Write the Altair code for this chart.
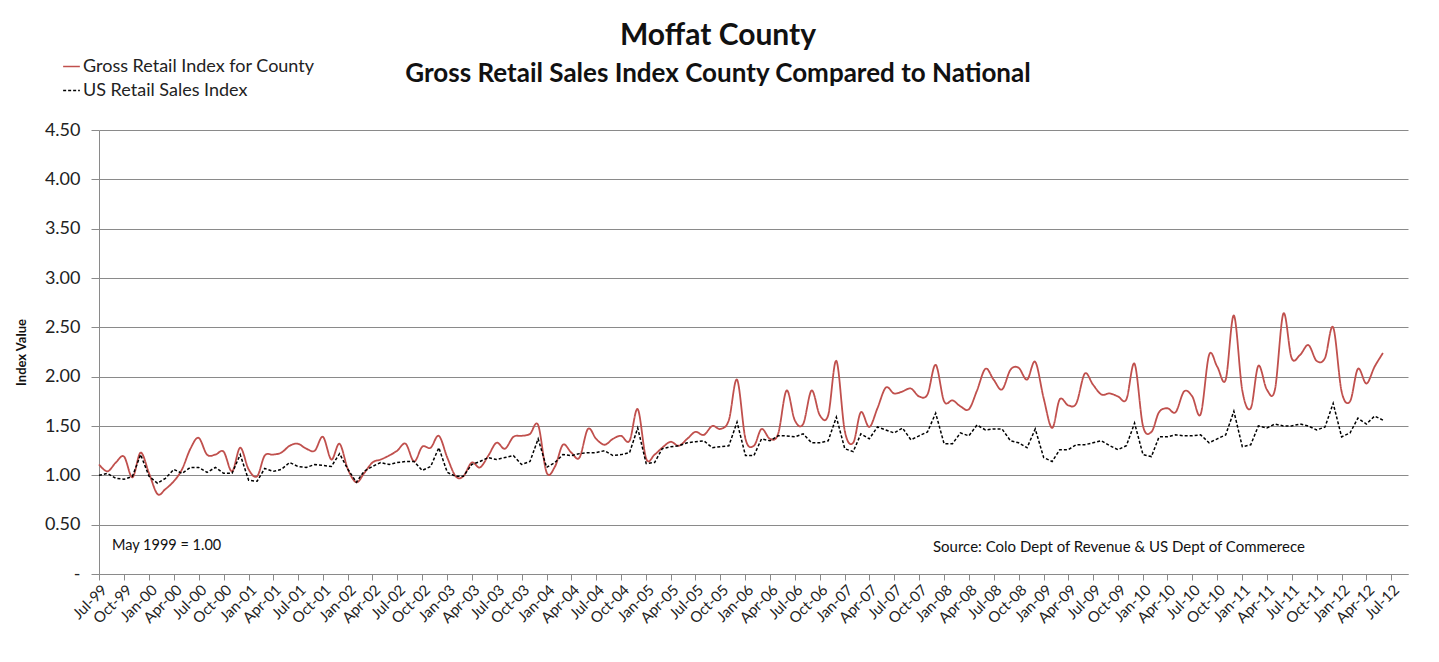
import altair as alt
import pandas as pd

# ---- data (monthly, first month Jul-1999) ----
start_month = "1999-07-01"
series_names = ["Gross Retail Index for County", "US Retail Sales Index"]
title_text = "Moffat County"
subtitle_text = "Gross Retail Sales Index County Compared to National"
base_note = "May 1999 = 1.00"
source_note = "Source: Colo Dept of Revenue & US Dept of Commerece"

county_index = [
    1.11, 1.04, 1.13, 1.19, 0.98, 1.23, 1.02, 0.81, 0.86, 0.94, 1.06, 1.27,
    1.38, 1.21, 1.21, 1.24, 1.04, 1.28, 1.06, 0.99, 1.20, 1.21, 1.23, 1.30,
    1.32, 1.27, 1.25, 1.39, 1.16, 1.32, 1.06, 0.93, 1.02, 1.13, 1.16, 1.20,
    1.25, 1.32, 1.14, 1.29, 1.28, 1.40, 1.18, 0.99, 0.99, 1.13, 1.08, 1.20,
    1.33, 1.27, 1.39, 1.40, 1.42, 1.51, 1.03, 1.09, 1.31, 1.23, 1.18, 1.47,
    1.37, 1.31, 1.37, 1.40, 1.35, 1.67, 1.17, 1.21, 1.28, 1.34, 1.30, 1.37,
    1.44, 1.41, 1.50, 1.47, 1.56, 1.97, 1.37, 1.30, 1.47, 1.37, 1.42, 1.86,
    1.56, 1.52, 1.86, 1.61, 1.61, 2.16, 1.45, 1.33, 1.64, 1.49, 1.68, 1.89,
    1.83, 1.85, 1.88, 1.80, 1.82, 2.12, 1.75, 1.76, 1.70, 1.67, 1.86, 2.08,
    1.97, 1.87, 2.07, 2.09, 1.97, 2.15, 1.78, 1.48, 1.77, 1.71, 1.73, 2.03,
    1.92, 1.82, 1.83, 1.80, 1.77, 2.13, 1.50, 1.44, 1.64, 1.68, 1.64, 1.85,
    1.80, 1.62, 2.22, 2.10, 1.97, 2.62, 1.86, 1.68, 2.11, 1.87, 1.87, 2.64,
    2.19, 2.22, 2.32, 2.16, 2.19, 2.50, 1.85, 1.75, 2.08, 1.93, 2.10, 2.24,
]

us_index = [
    1.00, 1.02, 0.97, 0.96, 0.99, 1.21, 0.99, 0.92, 0.97, 1.06, 1.02, 1.08,
    1.08, 1.03, 1.08, 1.02, 1.02, 1.21, 0.95, 0.94, 1.07, 1.04, 1.06, 1.13,
    1.09, 1.08, 1.11, 1.10, 1.09, 1.22, 1.06, 0.93, 1.04, 1.09, 1.13, 1.11,
    1.13, 1.14, 1.14, 1.05, 1.09, 1.28, 1.03, 0.99, 0.99, 1.11, 1.14, 1.18,
    1.16, 1.18, 1.20, 1.11, 1.14, 1.37, 1.08, 1.13, 1.21, 1.20, 1.22, 1.23,
    1.23, 1.25, 1.20, 1.21, 1.23, 1.48, 1.12, 1.13, 1.27, 1.29, 1.30, 1.33,
    1.34, 1.35, 1.28, 1.29, 1.30, 1.54, 1.20, 1.20, 1.37, 1.35, 1.40, 1.40,
    1.39, 1.42, 1.33, 1.33, 1.35, 1.59, 1.27, 1.24, 1.42, 1.37, 1.49, 1.46,
    1.43, 1.48, 1.36, 1.40, 1.44, 1.63, 1.32, 1.32, 1.43, 1.40, 1.51, 1.46,
    1.47, 1.47, 1.35, 1.33, 1.28, 1.47, 1.18, 1.14, 1.26, 1.26, 1.31, 1.31,
    1.33, 1.35, 1.30, 1.26, 1.30, 1.53, 1.21, 1.19, 1.39, 1.39, 1.41, 1.40,
    1.40, 1.41, 1.33, 1.37, 1.41, 1.65, 1.29, 1.31, 1.50, 1.48, 1.52, 1.50,
    1.50, 1.52, 1.50, 1.46, 1.49, 1.73, 1.39, 1.43, 1.58, 1.52, 1.60, 1.56,
]

y_ticks = [0, 0.5, 1.0, 1.5, 2.0, 2.5, 3.0, 3.5, 4.0, 4.5]
x_tick_dates = [d.strftime("%Y-%m-%d") for d in pd.date_range("1999-07-01", "2012-07-01", freq="3MS")]
x_domain = ["1999-07-01", "2012-09-01"]

months = pd.date_range(start_month, periods=len(county_index), freq="MS")
df_county = pd.DataFrame({"date": months, "value": county_index, "series": series_names[0]})
df_us = pd.DataFrame({"date": months, "value": us_index, "series": series_names[1]})

FONT = "Lato"
GRID = "#8a8a8a"

x_enc = alt.X(
    "date:T",
    scale=alt.Scale(domain=x_domain),
    axis=alt.Axis(
        title=None, values=x_tick_dates, format="%b-%y", labelAngle=-45,
        labelFontSize=15, labelFont=FONT, labelColor="#222222",
        tickSize=6, tickColor=GRID, domainColor=GRID, grid=False,
        labelPadding=2, labelOverlap=False,
    ),
)
y_enc = alt.Y(
    "value:Q",
    scale=alt.Scale(domain=[0, 4.5], nice=False),
    axis=alt.Axis(
        title="Index Value", titleFont=FONT, titleFontSize=13, titleFontWeight="bold",
        titleColor="#111111", titlePadding=16,
        values=y_ticks,
        labelExpr="datum.value == 0 ? '-' : format(datum.value, '.2f')",
        labelFontSize=18, labelFont=FONT, labelColor="#222222", labelPadding=11,
        tickSize=8, tickColor=GRID, domainColor=GRID,
        grid=True, gridColor=GRID, gridWidth=1,
    ),
)
color_enc = alt.Color(
    "series:N",
    scale=alt.Scale(domain=series_names, range=["#C0504D", "#000000"]),
    legend=alt.Legend(
        title=None, orient="none", legendX=-37, legendY=-73,
        symbolType="stroke", symbolSize=280, symbolStrokeWidth=1.6,
        labelFont=FONT, labelFontSize=18, labelColor="#222222", labelOffset=2,
        labelLimit=0, rowPadding=5,
    ),
)
dash_enc = alt.StrokeDash(
    "series:N",
    scale=alt.Scale(domain=series_names, range=[[1, 0], [3, 2]]),
    legend=None,
)

county_line = alt.Chart(df_county).mark_line(interpolate="cardinal", strokeWidth=1.8).encode(
    x=x_enc, y=y_enc, color=color_enc, strokeDash=dash_enc
)
us_line = alt.Chart(df_us).mark_line(strokeWidth=1.5).encode(
    x=x_enc, y=y_enc, color=color_enc, strokeDash=dash_enc
)

def text_layer(txt, x, y, size, weight="normal", align="left"):
    return alt.Chart(pd.DataFrame({"t": [txt]})).mark_text(
        align=align, baseline="alphabetic", font=FONT, fontSize=size,
        fontWeight=weight, color="#111111"
    ).encode(text="t:N", x=alt.value(x), y=alt.value(y))

title_mark = text_layer(title_text, 619, -85, 30, "bold", "center")
subtitle_mark = text_layer(subtitle_text, 619, -48, 26, "bold", "center")
note_base = text_layer(base_note, 13, 420, 14.5)
note_src = text_layer(source_note, 834, 422, 15)

chart = alt.layer(
    county_line, us_line, note_base, note_src, title_mark, subtitle_mark
).properties(
    width=1309, height=444,
    background="white",
    autosize=alt.AutoSizeParams(type="none"),
    padding={"left": 99, "top": 130, "right": 31, "bottom": 88},
).configure_view(strokeWidth=0, stroke="transparent")

chart.save("out.html", embed_options={"renderer": "svg", "actions": False})
